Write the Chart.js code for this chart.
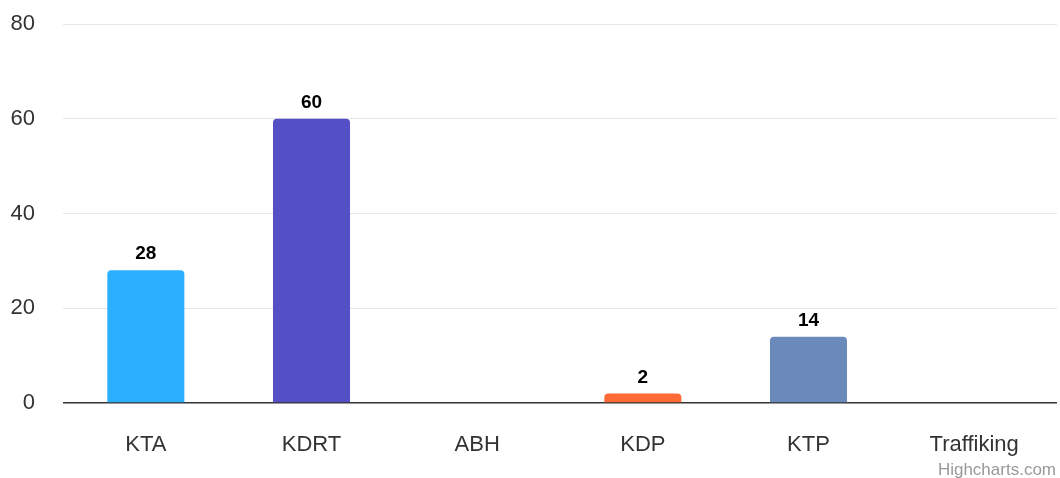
<!DOCTYPE html>
<html>
<head>
<meta charset="utf-8">
<script src="https://cdn.jsdelivr.net/npm/chart.js@4"></script>
<style>
  html, body { margin: 0; padding: 0; background: #fff; }
  #wrap { width: 1060px; height: 478px; position: relative; }
</style>
</head>
<body>
<div id="wrap"><canvas id="myChart" width="1060" height="478"></canvas></div>
<script>
const categories = ['KTA', 'KDRT', 'ABH', 'KDP', 'KTP', 'Traffiking'];
const cases = [28, 60, null, 2, 14, null];
const yTicks = [0, 20, 40, 60, 80];
const barColors = ['#2caffe', '#544fc5', '#00e272', '#fe6a35', '#6b8abc', '#d568fb'];

const fontFamily = '"Liberation Sans", Arial, Helvetica, sans-serif';

// labels on top of each bar, like highcharts dataLabels
const valueLabels = {
    id: 'valueLabels',
    afterDatasetsDraw(chart) {
        const ctx = chart.ctx;
        const meta = chart.getDatasetMeta(0);
        ctx.save();
        ctx.font = 'bold 19px ' + fontFamily;
        ctx.fillStyle = '#000';
        ctx.textAlign = 'center';
        ctx.textBaseline = 'alphabetic';
        meta.data.forEach(function (bar, i) {
            const v = cases[i];
            if (v === null) return;
            ctx.fillText(String(v), bar.x, bar.y - 11);
        });
        ctx.restore();
    }
};

// the credits text in the corner
const credits = {
    id: 'credits',
    afterDraw(chart) {
        const ctx = chart.ctx;
        ctx.save();
        ctx.font = '17px ' + fontFamily;
        ctx.fillStyle = '#999';
        ctx.textAlign = 'right';
        ctx.textBaseline = 'alphabetic';
        ctx.fillText('Highcharts.com', 1056, 475);
        ctx.restore();
    }
};

const ctx = document.getElementById('myChart').getContext('2d');
const myChart = new Chart(ctx, {
    type: 'bar',
    data: {
        labels: categories,
        datasets: [{
            data: cases,
            backgroundColor: barColors,
            borderRadius: { topLeft: 4, topRight: 4 },
            borderSkipped: 'bottom',
            categoryPercentage: 1,
            barPercentage: 0.465
        }]
    },
    options: {
        responsive: false,
        animation: false,
        layout: { padding: { top: 24, right: 3, bottom: 0, left: 0 } },
        plugins: {
            legend: { display: false },
            tooltip: { enabled: false }
        },
        scales: {
            x: {
                grid: { display: false },
                border: { display: false },
                ticks: {
                    color: '#333',
                    font: { family: fontFamily, size: 22 },
                    padding: 21
                },
                afterFit: function (scale) { scale.height = 75; }
            },
            y: {
                min: 0,
                max: 80,
                afterBuildTicks: function (scale) {
                    scale.ticks = yTicks.map(function (v) { return { value: v }; });
                },
                grid: {
                    drawTicks: false,
                    color: function (c) { return c.tick && c.tick.value === 0 ? '#333' : '#e6e6e6'; },
                    lineWidth: function (c) { return c.tick && c.tick.value === 0 ? 1.5 : 1; }
                },
                border: { display: false },
                ticks: {
                    color: '#333',
                    font: { family: fontFamily, size: 22 },
                    padding: 28
                },
                afterFit: function (scale) {
                    scale.width = 63;
                    scale.paddingTop = 0;
                    scale.paddingBottom = 0;
                }
            }
        }
    },
    plugins: [valueLabels, credits]
});
</script>
</body>
</html>
